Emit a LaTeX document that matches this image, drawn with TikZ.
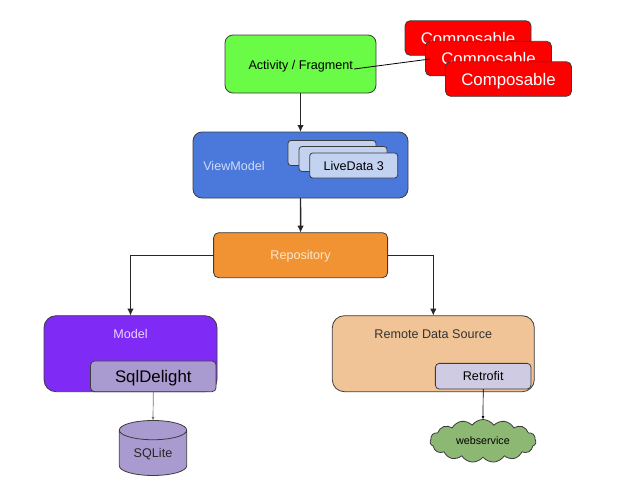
\documentclass[tikz,border=0pt]{standalone}
\usepackage{fontspec}
\setmainfont{Liberation Sans}
\usetikzlibrary{arrows.meta,shapes.geometric,shapes.symbols}
\definecolor{activitygreen}{HTML}{69FB45}
\definecolor{vmblue}{HTML}{4A78DB}
\definecolor{vmtext}{HTML}{CFDCF5}
\definecolor{livedatablue}{HTML}{C3D2F0}
\definecolor{repoorange}{HTML}{F19333}
\definecolor{repotext}{HTML}{FCE8CE}
\definecolor{modelpurple}{HTML}{7F2AF5}
\definecolor{modeltext}{HTML}{E8D5FF}
\definecolor{sqlpurple}{HTML}{A99BCF}
\definecolor{remotetan}{HTML}{F0C496}
\definecolor{retrofitlilac}{HTML}{CFCBE3}
\definecolor{cloudgreen}{HTML}{8DB873}
\definecolor{edgegray}{HTML}{3C3C3C}
\tikzset{
    box/.style={draw=edgegray, line width=0.8pt, inner sep=0pt, outer sep=0pt},
    txt/.style={font=\fontsize{12.6}{14}\selectfont, inner sep=0pt, text height=9pt, text depth=0pt},
    bigtxt/.style={font=\fontsize{16.8}{19}\selectfont, inner sep=0pt, text height=12pt, text depth=0pt},
    link/.style={line width=1.4pt, draw=black!85, -{Latex[length=7pt,width=6.5pt]}},
    thinlink/.style={line width=0.7pt, -{Latex[length=3.5pt,width=3pt]}}
}
\begin{document}
\begin{tikzpicture}[x=1pt,y=-1pt]
    \useasboundingbox (0,0) rectangle (624,488);
    % top row
    \node [box, fill=activitygreen, rounded corners=8pt, minimum width=151pt, minimum height=58pt] (activity) at (300.5,64) {};
    \node [txt] (activitytxt) at (300.7,64.5) {Activity / Fragment};
    \foreach \n/\x/\y in {1/468/38,2/488.5/58.5,3/508.5/79}
    {
        \node [box, fill=red, text=white, bigtxt, rounded corners=5pt, minimum width=126pt, minimum height=34.5pt] (composable\n) at (\x,\y) {Composable};
    }
    \coordinate (linkend) at (430,59);
    \draw [line width=0.8pt] (activitytxt.east) ++(1,4.5) -- (linkend);
    % view model
    \node [box, fill=vmblue, rounded corners=9pt, minimum width=215pt, minimum height=66pt] (viewmodel) at (300.5,165) {};
    \node [txt, text=vmtext] (viewmodeltxt) at (234,166) {ViewModel};
    \foreach \n/\x/\y in {1/332/153,2/343/159,3/353.7/165.5}
    {
        \node [box, fill=livedatablue, txt, rounded corners=3pt, minimum width=88pt, minimum height=25pt] (livedata\n) at (\x,\y) {\ifnum\n=3 LiveData 3\fi};
    }
    % repository
    \node [box, fill=repoorange, text=repotext, txt, rounded corners=5pt, minimum width=174pt, minimum height=45pt] (repository) at (300.6,255.2) {Repository};
    % data sources
    \node [box, fill=modelpurple, rounded corners=12pt, minimum width=173pt, minimum height=76pt] (model) at (130.5,353.7) {};
    \node [txt, text=modeltext] (modeltxt) at (130.5,333.5) {Model};
    \node [box, fill=sqlpurple, bigtxt, rounded corners=4pt, minimum width=125.5pt, minimum height=30.7pt] (sqldelight) at (153.3,376.3) {SqlDelight};
    \node [box, fill=remotetan, rounded corners=12pt, minimum width=202pt, minimum height=76pt] (remote) at (433.3,353.7) {};
    \node [txt, text=black!80] (remotetxt) at (433.3,333.5) {Remote Data Source};
    \node [box, fill=retrofitlilac, txt, rounded corners=4pt, minimum width=95.7pt, minimum height=25.7pt] (retrofit) at (483.2,376.2) {Retrofit};
    % storage
    \node [box, fill=sqlpurple, txt, text=black!85, cylinder, shape border rotate=90, aspect=0.5, minimum width=67.4pt, minimum height=55pt] (sqlite) at (153,453) {SQLite};
    \node [box, fill=cloudgreen, cloud, cloud puffs=15, cloud puff arc=110, aspect=2.5, minimum width=106pt, minimum height=43pt] (webservice) at (483,441) {};
    \node [txt, font=\fontsize{10.7}{12}\selectfont, text height=7.7pt] (webservicetxt) at (483,441) {webservice};
    % connectors
    \draw [link] (activity) -- (viewmodel);
    \draw [link] (viewmodel) -- (repository);
    \draw [link] (repository.west) -| (model.north);
    \draw [link] (repository.east) -| (remote.north);
    \draw [thinlink, draw=black!55] (sqldelight.south) -- (sqlite.north);
    \draw [thinlink] (retrofit.south) -- (webservice.north);
\end{tikzpicture}
\end{document}
